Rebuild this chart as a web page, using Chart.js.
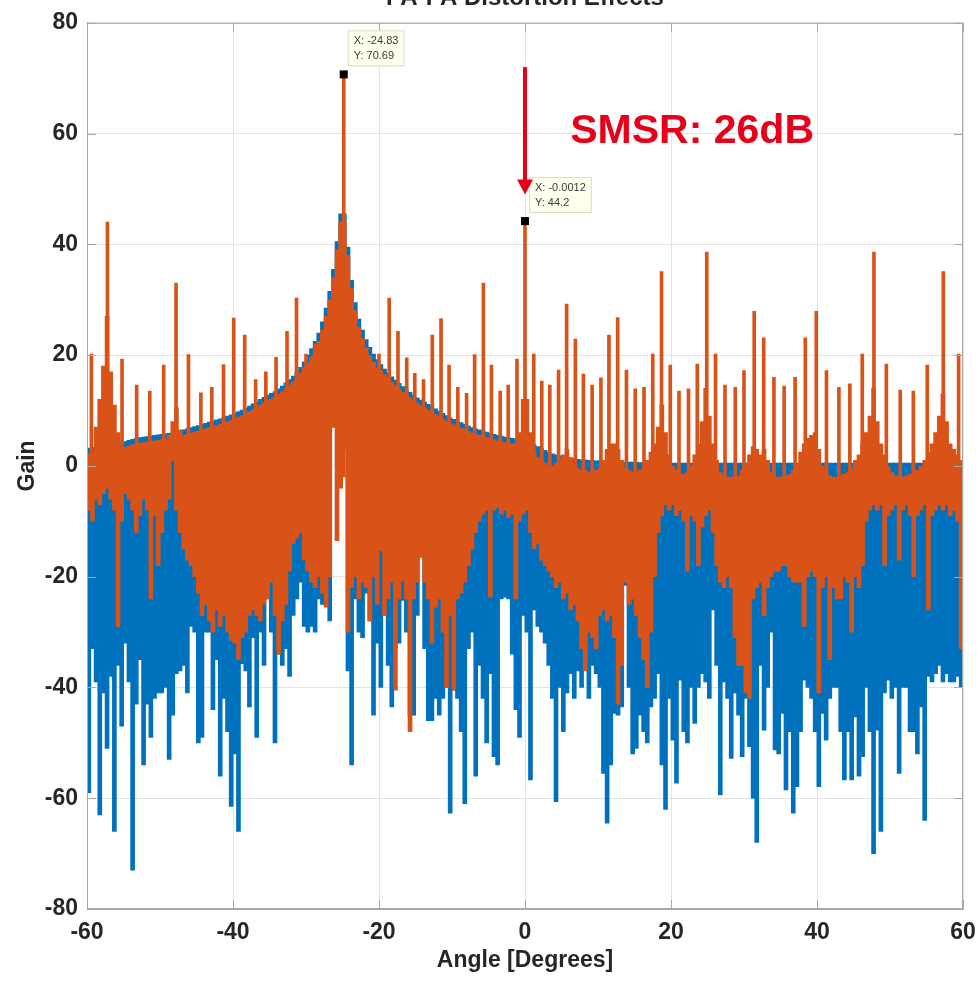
<!DOCTYPE html>
<html>
<head>
<meta charset="utf-8">
<title>Gain vs Angle</title>
<script src="https://cdn.jsdelivr.net/npm/chart.js@4.4.1/dist/chart.umd.min.js"></script>
<style>
  html, body { margin: 0; padding: 0; background: #fff; }
  #wrap { width: 980px; height: 982px; }
</style>
</head>
<body>
<div id="wrap"><canvas id="gain-chart" width="980" height="982"></canvas></div>
<script>
// angle bins (deg), 0.5 deg wide
const angles = [
  -59.75,-59.25,-58.75,-58.25,-57.75,-57.25,-56.75,-56.25,-55.75,-55.25,-54.75,-54.25,-53.75,-53.25,-52.75,-52.25,-51.75,-51.25,-50.75,-50.25,
  -49.75,-49.25,-48.75,-48.25,-47.75,-47.25,-46.75,-46.25,-45.75,-45.25,-44.75,-44.25,-43.75,-43.25,-42.75,-42.25,-41.75,-41.25,-40.75,-40.25,
  -39.75,-39.25,-38.75,-38.25,-37.75,-37.25,-36.75,-36.25,-35.75,-35.25,-34.75,-34.25,-33.75,-33.25,-32.75,-32.25,-31.75,-31.25,-30.75,-30.25,
  -29.75,-29.25,-28.75,-28.25,-27.75,-27.25,-26.75,-26.25,-25.75,-25.25,-24.75,-24.25,-23.75,-23.25,-22.75,-22.25,-21.75,-21.25,-20.75,-20.25,
  -19.75,-19.25,-18.75,-18.25,-17.75,-17.25,-16.75,-16.25,-15.75,-15.25,-14.75,-14.25,-13.75,-13.25,-12.75,-12.25,-11.75,-11.25,-10.75,-10.25,
  -9.75,-9.25,-8.75,-8.25,-7.75,-7.25,-6.75,-6.25,-5.75,-5.25,-4.75,-4.25,-3.75,-3.25,-2.75,-2.25,-1.75,-1.25,-0.75,-0.25,
  0.25,0.75,1.25,1.75,2.25,2.75,3.25,3.75,4.25,4.75,5.25,5.75,6.25,6.75,7.25,7.75,8.25,8.75,9.25,9.75,
  10.25,10.75,11.25,11.75,12.25,12.75,13.25,13.75,14.25,14.75,15.25,15.75,16.25,16.75,17.25,17.75,18.25,18.75,19.25,19.75,
  20.25,20.75,21.25,21.75,22.25,22.75,23.25,23.75,24.25,24.75,25.25,25.75,26.25,26.75,27.25,27.75,28.25,28.75,29.25,29.75,
  30.25,30.75,31.25,31.75,32.25,32.75,33.25,33.75,34.25,34.75,35.25,35.75,36.25,36.75,37.25,37.75,38.25,38.75,39.25,39.75,
  40.25,40.75,41.25,41.75,42.25,42.75,43.25,43.75,44.25,44.75,45.25,45.75,46.25,46.75,47.25,47.75,48.25,48.75,49.25,49.75,
  50.25,50.75,51.25,51.75,52.25,52.75,53.25,53.75,54.25,54.75,55.25,55.75,56.25,56.75,57.25,57.75,58.25,58.75,59.25,59.75
];

// series 1 (blue): upper envelope and lowest value per bin
const blueTop = [
  3.2,3.3,3.4,3.5,3.6,3.7,3.8,3.9,4.0,4.2,4.4,4.6,4.8,5.0,5.1,5.2,5.3,5.4,5.5,5.6,
  5.7,5.8,5.9,6.0,6.2,6.3,6.5,6.7,6.9,7.1,7.3,7.5,7.7,7.9,8.1,8.3,8.5,8.8,9.0,9.2,
  9.5,9.8,10.1,10.4,10.8,11.2,11.6,12.0,12.4,12.8,13.1,13.4,13.9,14.4,15.0,15.6,16.2,17.0,17.8,18.8,
  20.0,21.2,22.5,24.0,26.0,28.5,31.5,35.5,40.5,45.5,45.5,39.5,33.5,29.5,26.5,24.5,22.8,21.4,20.2,19.2,
  18.3,17.5,16.8,16.1,15.5,14.9,14.3,13.8,13.3,12.8,12.3,11.9,11.5,11.1,10.7,10.3,9.9,9.5,9.1,8.7,
  8.4,8.1,7.8,7.5,7.2,6.9,6.7,6.5,6.3,6.1,5.9,5.7,5.5,5.4,5.2,5.1,5.0,4.9,4.8,4.7,
  4.5,4.0,3.8,3.5,3.2,2.8,2.5,2.2,2.0,1.8,1.6,1.5,1.4,1.3,1.2,1.1,1.1,1.0,1.0,0.9,
  0.9,0.9,0.8,0.8,0.8,0.8,0.7,0.7,0.7,0.7,0.7,0.6,0.6,0.6,0.6,0.6,0.6,0.6,0.5,0.5,
  0.5,0.5,0.5,0.5,0.5,0.5,0.5,0.5,0.5,0.5,0.5,0.5,0.5,0.5,0.5,0.5,0.5,0.5,0.5,0.5,
  0.5,0.5,0.5,0.5,0.5,0.5,0.5,0.5,0.5,0.5,0.5,0.5,0.5,0.5,0.5,0.5,0.5,0.5,0.5,0.5,
  0.5,0.5,0.5,0.5,0.5,0.5,0.5,0.5,0.5,0.5,0.5,0.5,0.5,0.5,0.5,0.5,0.5,0.5,0.5,0.5,
  0.5,0.5,0.5,0.5,0.5,0.5,0.5,0.5,0.5,0.5,0.6,0.6,0.6,0.6,0.6,0.6,0.6,0.6,0.6,0.6
];
const blueLow = [
  -59,-33,-39,-63,-41,-51,-38,-66,-36,-47,-32,-39,-73,-43,-35,-54,-43,-49,-42,-41,
  -41,-40,-53,-45,-37.5,-37,-36,-41,-29,-30,-50,-49,-30,-30,-44,-35,-56,-42,-48,-61.5,
  -52,-66,-35.7,-37,-43.5,-31,-49,-30,-36,-24,-30,-50,-34,-36,-33,-38,-27,-24,-21,-29,
  -30,-29,-30,-24,-25,-25,-28,7,7,7,7,-37,-54,-24,-30,-31,-23,-28,-45,-32,
  -40,-27,-36,-43.5,-33,-32,-24.3,-30,-45,-45,-27,-16.5,-33,-46,-46,-42,-45,-42,-40,-62.7,
  -40.5,-42,-48,-61,-33,-30,-56,-36,-42,-50,-37.5,-52.5,-54,-24,-23.7,-24,-34,-44,-49,-27,
  -30,-56.7,-26,-29,-30,-32,-36,-42,-60.6,-40,-48,-41,-37.5,-42,-37,-40,-32,-42,-36,-37.5,
  -40,-55.5,-64.5,-54,-44.7,-45,-43.5,-21.6,-40,-52,-51,-45,-48,-50,-43.5,-42,-37.5,-54,-62,-42,
  -49.5,-57.3,-38.7,-48,-50,-40,-46.5,-40,-37.5,-39,-42,-26,-36,-59.4,-39,-42,-52.8,-41,-45,-52.5,
  -42,-50.7,-60,-68,-36,-47.7,-40,-30,-51.3,-52,-44.7,-58.5,-48,-62.7,-57.9,-48,-38.7,-40,-42,-48,
  -57.9,-44.7,-49.5,-42,-40,-40,-48,-56.7,-48,-56.7,-45.3,-56,-52.5,-40,-48,-70,-47.7,-66,-41,-38.7,
  -42,-40,-55.5,-40,-40,-48,-48,-52,-43.5,-64,-38,-39,-37.5,-36,-39,-37.5,-39,-39,-38,-40
];

// series 2 (orange): body top and body bottom per bin
const orangeTop = [
  2.2,2.3,7,12,18,27,17,11,6,3.2,3.4,3.6,3.8,4.0,4.1,4.2,4.3,4.4,4.5,4.6,
  4.7,4.8,5.5,8,10.5,6.5,5.5,5.7,5.9,6.1,6.3,6.5,6.7,6.9,7.1,7.3,7.5,7.8,8.0,8.2,
  8.5,8.8,9.1,9.4,9.8,10.2,10.6,11.0,11.4,11.8,12.1,12.4,12.9,13.4,14.0,14.6,15.2,16.0,16.8,17.8,
  18.5,19.7,21.0,22.5,24.5,27.0,30.0,34.0,39.0,44.0,44.0,38.0,32.0,28.0,25.0,23.0,21.3,19.9,18.7,17.7,
  17.3,16.5,15.8,15.1,14.5,13.9,13.3,12.8,12.3,11.8,11.3,10.9,10.5,10.1,9.7,9.3,8.9,8.5,8.1,7.7,
  7.4,7.1,6.8,6.5,6.2,5.9,5.7,5.5,5.3,5.1,4.9,4.7,4.5,4.4,4.2,4.1,4.0,4.0,6.0,12.0,
  12,6,2.5,1.5,1,0.5,0,0,0.5,1.2,2,3,1.5,0.3,-0.5,-0.8,-0.8,-1.2,-0.8,-0.8,
  -0.5,1,3,4,4,3,1,-0.5,-0.8,-1.2,-1.2,-0.8,-0.5,1,2.5,4,7,11,6,2,
  0,-0.8,-1.5,-1.5,-1.2,0,2,4,8,14,9,4,1,-1.2,-1.8,-2,-2,-1.8,-1.8,-0.8,
  0.5,2,3.5,3,2,3,1,-1.2,-2,-2,-2,-1.8,-1.5,-0.8,0.5,2.5,4,5,5.5,6,
  3,0,-1.2,-1.8,-2,-2,-1.8,-1.5,-1.2,-0.5,1,2,4,6,9,14,8,4,2,0,
  -1.2,-1.8,-2,-2,-1.8,-1.5,-1.5,-0.8,0,1,2.5,4,6,9,13,8,4,3,2,1
];
const orangeLow = [
  -8,-10,-6,-7,-5,-4,-6,-8,-29,-10,-5,-6,-8,-12,-9,-6,-8,-24,-9,-18,
  -12,-8,-6,1,-8,-12,-15,-17,-18,-20,-23,-27,-25,-28,-30,-26,-29,-27,-30,-31.5,
  -32,-35,-31,-30,-27,-26,-27,-28,-25,-24,-21,-27,-34,-28,-25,-19,-14,-13,-12,-17,
  -19,-21,-22,-20,-23,-25.5,-20,7,-13.5,-4,3,-30,-22,-20,-24,-21,-22,-28,-20,-25,
  -15.3,-27,-24,-21,-40.5,-24,-20.7,-24,-48,-24,-21,-16.5,-21,-24,-32,-25.5,-24,-30,-40,-27,
  -40.5,-24,-23,-21,-18,-15,-12,-10,-8.7,-8,-23.7,-8,-7.5,-8.7,-8,-9.3,-8.7,-24,-10,-8.7,
  -8,-12,-15,-14,-17,-18,-19,-20,-22,-21,-24,-23,-26,-25,-28,-33,-37,-30,-31,-33,
  -27,-26,-28,-27,-31,-43,-36,-21,-25,-24,-27,-31,-35,-40,-30,-20,-12,-9,-7,-8,
  -7,-9,-8,-10,-19,-9,-10,-18,-11,-9,-8,-12,-18,-21,-22,-20,-22,-31,-36,-36,
  -41,-42,-24,-22,-21,-27,-22,-20,-19,-19,-18,-18,-20,-21,-21,-21,-29,-20,-19,-20,
  -41,-22,-20,-35,-22,-24,-24,-20,-21,-30,-20,-22,-18,-10,-8,-7,-8,-7,-18,-9,
  -8,-7,-17,-8,-7,-9,-20,-9,-8,-7,-26,-9,-8,-7,-8,-7,-9,-8,-10,-33
];

// narrow orange spikes (angle, peak gain)
const spikeAngles = [
  -59.4,-57.2,-55.2,-53.2,-51.4,-49.5,-47.8,-46.1,-44.4,-42.9,-41.3,-39.9,-38.4,-36.9,-35.5,-34.1,-32.6,-31.3,-30.0,-28.7,
  -24.83,-20.0,-18.6,-17.4,-16.2,-15.1,-13.9,-12.7,-11.5,-10.4,-9.2,-8.0,-6.9,-5.7,-4.6,-3.4,-2.3,-1.1,
  0,1.2,2.3,3.4,4.6,5.7,6.9,8.0,9.2,10.4,11.5,12.7,13.9,15.1,16.3,17.5,18.7,19.9,21.1,22.4,23.6,24.9,
  26.1,27.4,28.8,30.0,31.4,32.7,34.1,35.5,37.0,38.4,39.9,41.3,43.0,44.5,46.2,47.8,49.5,51.4,53.2,55.1,57.3,59.4
];
const spikePeaks = [
  20.2,44,19.3,14.6,13.5,18.2,33,20.1,13.2,14.2,18.3,26.7,23.6,15.6,17,19.6,24.3,30.3,20.2,22,
  70.69,20.2,30.3,24.3,19.5,16.7,15.6,23.6,26.6,18.2,14.2,13.1,20.1,33,18.2,13.5,14.6,19.3,
  44.2,20.2,15.3,14.6,17.3,29.2,22.9,16.6,14.6,15.9,23.6,26.8,17.3,13.9,14.2,20.2,35.1,18.2,13.5,13.9,18.4,38.6,
  20.2,14.6,14.2,17.2,27.9,23.1,16.0,14.4,16.0,23.1,27.9,17.2,14.2,14.8,20.2,38.6,18.4,13.7,13.5,18.2,35.1,20.2
];
const spikeFoot = -2;

const xTicks = [-60, -40, -20, 0, 20, 40, 60];
const yTicks = [-80, -60, -40, -20, 0, 20, 40, 60, 80];

// data tips and the SMSR note
const mainTip = { x: -24.83, y: 70.69 };
const sideTip = { x: -0.0012, y: 44.2 };
const arrowFrom = { x: 0, y: 72 };
const arrowTo = { x: 0, y: 49 };
const noteText = 'SMSR: 26dB';
const notePos = { x: 6.2, y: 60.3 };
const titleText = 'PA-PA Distortion Effects';

const BLUE = 'rgb(0,114,189)';
const ORANGE = 'rgb(217,83,25)';
const RED = '#e8001a';
const INK = '#262626';
const FONT = '"Liberation Sans", Arial, Helvetica, sans-serif';

const binPx = 4;

let orangeSpikes = spikeAngles.map(function (a, i) {
  return { x: a, y: [spikeFoot, spikePeaks[i]] };
});
let orangeBody = angles.map(function (a, i) {
  return { x: a, y: [orangeLow[i], orangeTop[i]] };
});
let blueBody = angles.map(function (a, i) {
  return { x: a, y: [blueLow[i], blueTop[i]] };
});

const extras = {
  id: 'extras',
  afterDraw: function (chart) {
    const ctx = chart.ctx;
    const a = chart.chartArea;
    const xs = chart.scales.x;
    const ys = chart.scales.y;

    ctx.save();
    // box and inward ticks
    ctx.strokeStyle = '#a8a8a8';
    ctx.lineWidth = 1;
    ctx.strokeRect(a.left + 0.5, a.top + 0.5, a.right - a.left - 1, a.bottom - a.top - 1);
    ctx.beginPath();
    xTicks.forEach(function (t) {
      const px = Math.round(xs.getPixelForValue(t)) + 0.5;
      ctx.moveTo(px, a.bottom); ctx.lineTo(px, a.bottom - 9);
      ctx.moveTo(px, a.top); ctx.lineTo(px, a.top + 9);
    });
    yTicks.forEach(function (t) {
      const py = Math.round(ys.getPixelForValue(t)) + 0.5;
      ctx.moveTo(a.left, py); ctx.lineTo(a.left + 9, py);
      ctx.moveTo(a.right, py); ctx.lineTo(a.right - 9, py);
    });
    ctx.stroke();

    // title, cut off by the top of the picture
    ctx.fillStyle = INK;
    ctx.font = 'bold 24px ' + FONT;
    ctx.textAlign = 'center';
    ctx.textBaseline = 'alphabetic';
    ctx.fillText(titleText, (a.left + a.right) / 2, 5);

    // data tips
    [mainTip, sideTip].forEach(function (tip) {
      const px = xs.getPixelForValue(tip.x);
      const py = ys.getPixelForValue(tip.y);
      ctx.font = '11px ' + FONT;
      const l1 = 'X: ' + tip.x;
      const l2 = 'Y: ' + tip.y;
      const w = Math.max(ctx.measureText(l1).width, ctx.measureText(l2).width) + 12;
      const bx = px + 4, by = py - 44;
      ctx.fillStyle = 'rgba(255,255,236,0.95)';
      ctx.fillRect(bx, by, w, 36);
      ctx.strokeStyle = 'rgba(215,215,195,0.9)';
      ctx.strokeRect(bx + 0.5, by + 0.5, w - 1, 35);
      ctx.fillStyle = '#3a3a3a';
      ctx.textAlign = 'left';
      ctx.textBaseline = 'middle';
      ctx.fillText(l1, bx + 6, by + 11);
      ctx.fillText(l2, bx + 6, by + 26);
      ctx.fillStyle = '#000';
      ctx.fillRect(px - 4, py - 4, 8, 8);
    });

    // red arrow
    const ax = xs.getPixelForValue(arrowFrom.x);
    const ay0 = ys.getPixelForValue(arrowFrom.y);
    const ay1 = ys.getPixelForValue(arrowTo.y);
    ctx.strokeStyle = RED;
    ctx.fillStyle = RED;
    ctx.lineWidth = 4;
    ctx.beginPath();
    ctx.moveTo(ax, ay0);
    ctx.lineTo(ax, ay1 - 12);
    ctx.stroke();
    ctx.beginPath();
    ctx.moveTo(ax - 8, ay1 - 15);
    ctx.lineTo(ax + 8, ay1 - 15);
    ctx.lineTo(ax, ay1);
    ctx.closePath();
    ctx.fill();

    ctx.font = 'bold 41px ' + FONT;
    ctx.textAlign = 'left';
    ctx.textBaseline = 'middle';
    ctx.fillText(noteText, xs.getPixelForValue(notePos.x), ys.getPixelForValue(notePos.y));
    ctx.restore();
  }
};

Chart.defaults.font.family = FONT;

let gainChart = new Chart(document.getElementById('gain-chart').getContext('2d'), {
  type: 'bar',
  data: {
    datasets: [
      { label: 'spikes', data: orangeSpikes, backgroundColor: ORANGE, barThickness: 3, grouped: false },
      { label: 'orange', data: orangeBody, backgroundColor: ORANGE, barThickness: binPx, grouped: false },
      { label: 'blue', data: blueBody, backgroundColor: BLUE, barThickness: binPx, grouped: false }
    ]
  },
  options: {
    responsive: false,
    devicePixelRatio: 1,
    animation: false,
    events: [],
    layout: { padding: { top: 21, right: 17, left: 0, bottom: 0 } },
    plugins: { legend: { display: false }, tooltip: { enabled: false } },
    scales: {
      x: {
        type: 'linear', min: -60, max: 60, offset: false,
        afterBuildTicks: function (s) { s.ticks = xTicks.map(function (v) { return { value: v }; }); },
        afterFit: function (s) { s.height = 73; s.paddingLeft = 0; s.paddingRight = 0; },
        ticks: { color: INK, font: { size: 23, weight: 'bold' }, padding: 10, maxRotation: 0 },
        grid: { color: '#e3e3e3', drawTicks: false, offset: false },
        border: { color: '#a8a8a8' },
        title: { display: true, text: 'Angle [Degrees]', color: INK, font: { size: 23, weight: 'bold' }, padding: { top: 0, bottom: 8 } }
      },
      y: {
        min: -80, max: 80,
        afterBuildTicks: function (s) { s.ticks = yTicks.map(function (v) { return { value: v }; }); },
        afterFit: function (s) { s.width = 87; },
        ticks: { color: INK, font: { size: 23, weight: 'bold' }, padding: 9 },
        grid: { color: '#e3e3e3', drawTicks: false },
        border: { color: '#a8a8a8' },
        title: { display: true, text: 'Gain', color: INK, font: { size: 23, weight: 'bold' }, padding: { top: 14, bottom: 0 } }
      }
    }
  },
  plugins: [extras]
});
</script>
</body>
</html>
